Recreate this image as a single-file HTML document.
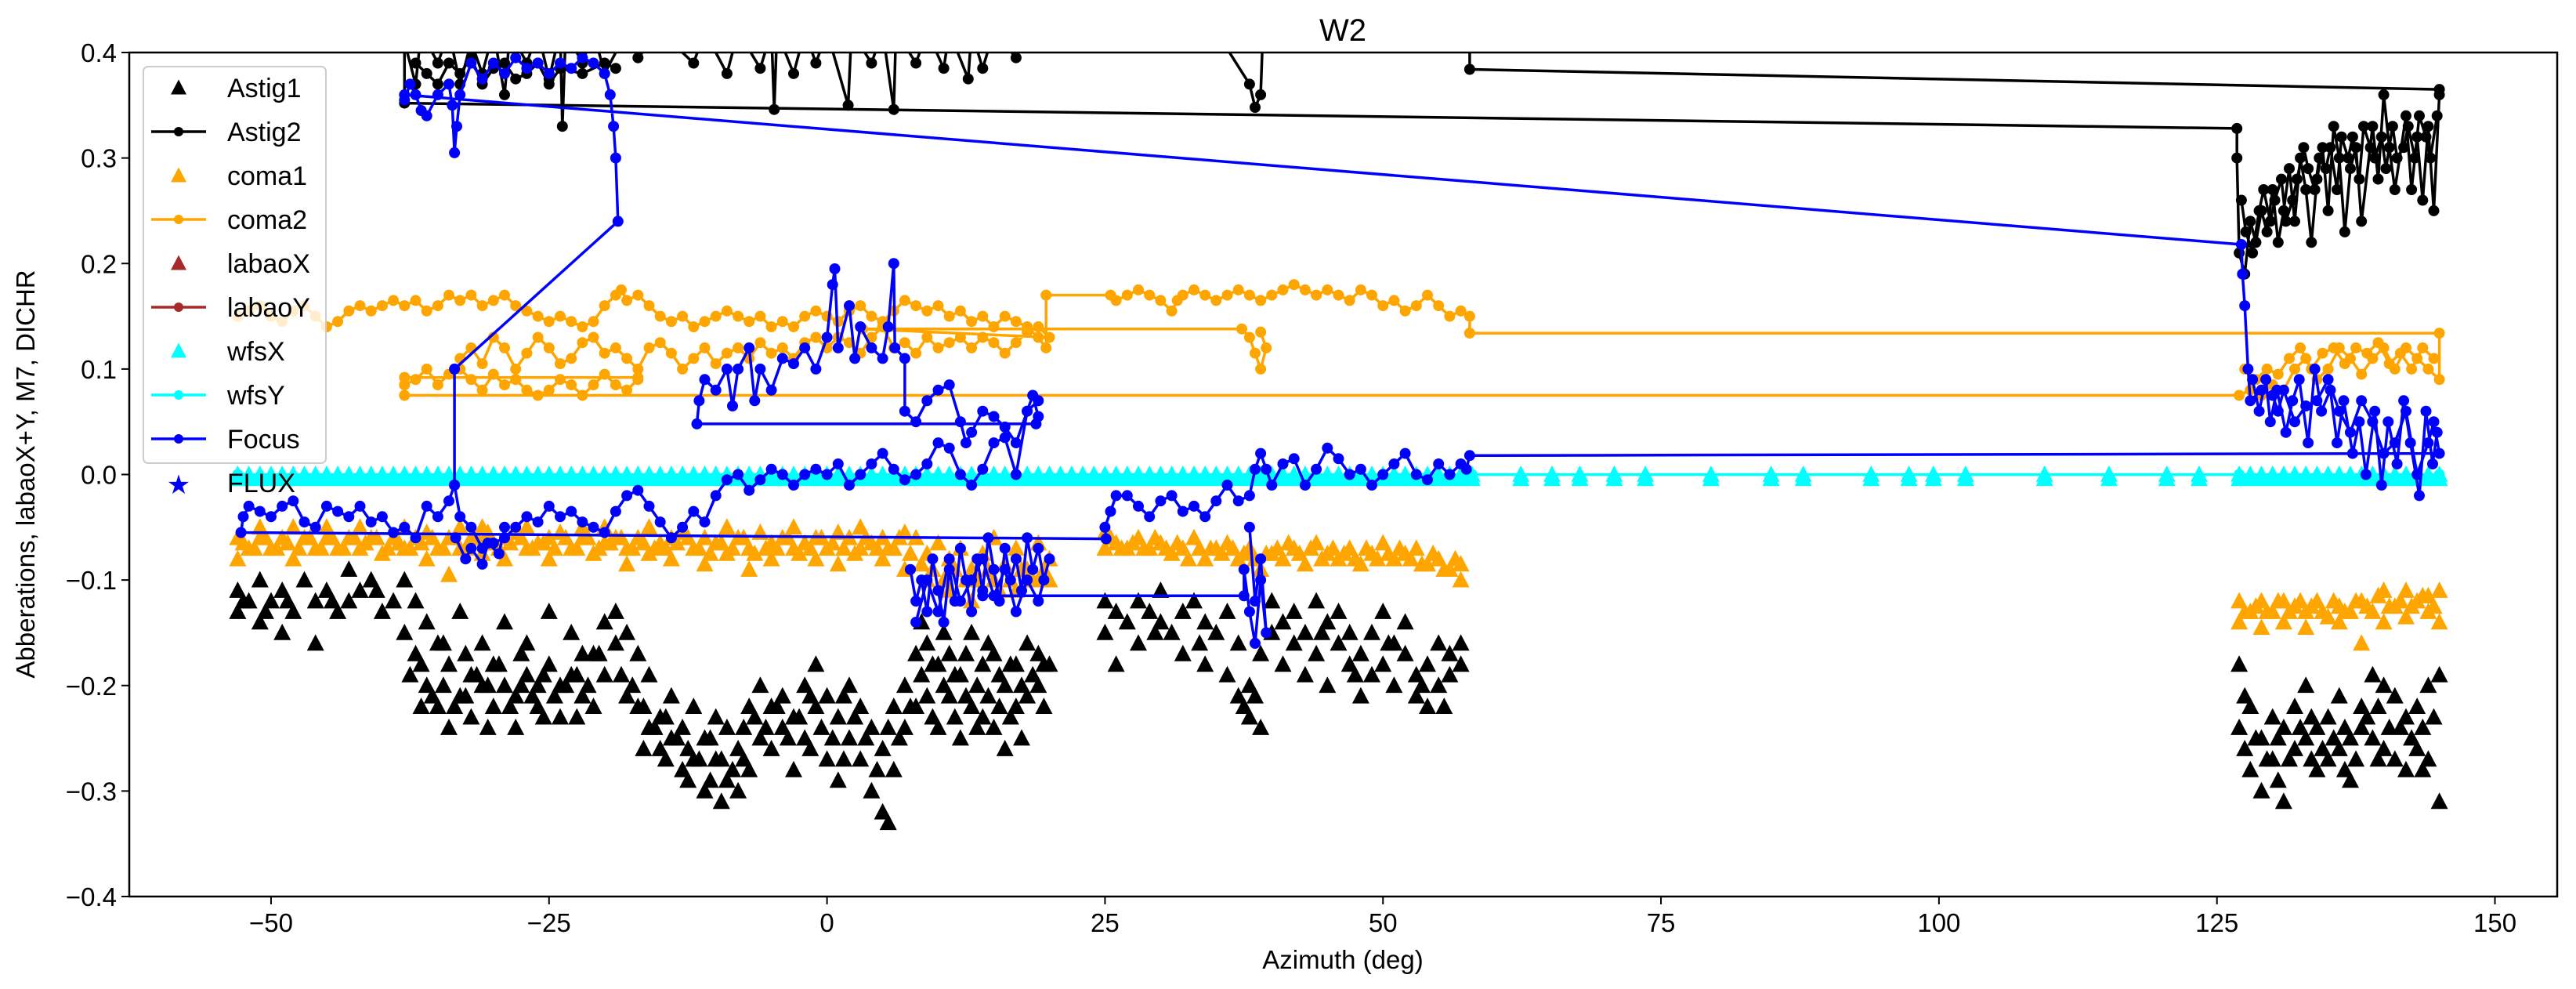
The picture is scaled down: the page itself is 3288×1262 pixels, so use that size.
<!DOCTYPE html>
<html><head><meta charset="utf-8"><title>W2</title>
<style>
html,body{margin:0;padding:0;background:#fff;}
svg{display:block;font-family:"Liberation Sans","DejaVu Sans",sans-serif;}
</style></head>
<body>
<svg id="chart" width="3288" height="1262" viewBox="0 0 3288 1262" xmlns="http://www.w3.org/2000/svg">
<defs><clipPath id="plotclip"><rect x="165" y="67" width="3099" height="1077"/></clipPath></defs>
<rect x="0" y="0" width="3288" height="1262" fill="#fff"/>
<text x="1714" y="52" font-size="40" text-anchor="middle">W2</text>
<g id="series" clip-path="url(#plotclip)"></g>
<g id="axes"></g>
<text x="1714" y="1236" font-size="33" text-anchor="middle">Azimuth (deg)</text>
<text transform="translate(44,605) rotate(-90)" font-size="33" text-anchor="middle">Abberations, labaoX+Y, M7, DICHR</text>
<g id="legend"></g>
</svg>
<script>
const xTicks=[-50,-25,0,25,50,75,100,125,150];
const yTicks=[-0.4,-0.3,-0.2,-0.1,0.0,0.1,0.2,0.3,0.4];
const yTickLabels=["\u22120.4","\u22120.3","\u22120.2","\u22120.1","0.0","0.1","0.2","0.3","0.4"];
const legendLabels=["Astig1","Astig2","coma1","coma2","labaoX","labaoY","wfsX","wfsY","Focus","FLUX"];

const astig1Points=[[-53,-0.11],[-53,-0.13],[-52,-0.12],[-51,-0.10],[-51,-0.14],[-50,-0.12],[-49,-0.11],[-49,-0.15],[-48,-0.13],[-47,-0.10],[-46,-0.12],[-46,-0.16],[-45,-0.11],[-44,-0.13],[-43,-0.12],[-43,-0.09],[-42,-0.11],[-41,-0.10],[-40,-0.13],[-39,-0.12],[-38,-0.15],[-38,-0.10],[-37,-0.17],[-37,-0.12],[-36,-0.20],[-36,-0.14],[-35,-0.22],[-35,-0.16],[-34,-0.18],[-34,-0.24],[-33,-0.21],[-33,-0.13],[-32,-0.19],[-32,-0.23],[-31,-0.20],[-31,-0.16],[-30,-0.22],[-30,-0.18],[-29,-0.20],[-29,-0.14],[-28,-0.21],[-28,-0.24],[-27,-0.19],[-27,-0.16],[-26,-0.22],[-26,-0.20],[-25,-0.18],[-25,-0.13],[-24,-0.20],[-24,-0.23],[-23,-0.19],[-23,-0.15],[-22,-0.21],[-22,-0.17],[-21,-0.17],[-21,-0.22],[-20,-0.14],[-20,-0.19],[-19,-0.13],[-19,-0.16],[-18,-0.15],[-18,-0.21],[-17,-0.22],[-17,-0.17],[-16,-0.24],[-16,-0.19],[-15,-0.23],[-15,-0.26],[-14,-0.21],[-14,-0.25],[-13,-0.24],[-13,-0.28],[-12,-0.22],[-12,-0.27],[-11,-0.25],[-11,-0.30],[-10,-0.27],[-10,-0.23],[-9,-0.29],[-9,-0.24],[-8,-0.26],[-8,-0.30],[-7,-0.28],[-7,-0.22],[-6,-0.25],[-6,-0.20],[-5,-0.22],[-5,-0.26],[-4,-0.21],[-4,-0.24],[-3,-0.23],[-3,-0.28],[-2,-0.20],[-2,-0.25],[-1,-0.22],[-1,-0.18],[0,-0.21],[0,-0.27],[1,-0.23],[1,-0.29],[2,-0.25],[2,-0.20],[3,-0.27],[3,-0.22],[4,-0.24],[4,-0.30],[5,-0.26],[5,-0.32],[6,-0.22],[6,-0.28],[7,-0.20],[7,-0.24],[8,-0.17],[8,-0.22],[9,-0.16],[9,-0.21],[10,-0.18],[10,-0.24],[11,-0.17],[11,-0.21],[12,-0.19],[12,-0.25],[13,-0.15],[13,-0.22],[14,-0.18],[14,-0.23],[15,-0.17],[15,-0.24],[16,-0.20],[16,-0.26],[17,-0.18],[17,-0.22],[18,-0.16],[18,-0.21],[19,-0.17],[19,-0.20],[20,-0.18],[25,-0.12],[25,-0.15],[26,-0.13],[26,-0.18],[27,-0.14],[28,-0.12],[28,-0.16],[29,-0.13],[30,-0.14],[30,-0.11],[31,-0.15],[32,-0.13],[32,-0.17],[33,-0.12],[34,-0.14],[34,-0.18],[35,-0.15],[36,-0.13],[36,-0.19],[37,-0.16],[37,-0.21],[38,-0.20],[38,-0.23],[39,-0.17],[39,-0.24],[40,-0.15],[40,-0.12],[41,-0.14],[41,-0.18],[42,-0.13],[42,-0.16],[43,-0.15],[43,-0.19],[44,-0.12],[44,-0.17],[45,-0.14],[45,-0.20],[46,-0.16],[46,-0.13],[47,-0.18],[47,-0.15],[48,-0.17],[48,-0.21],[49,-0.15],[49,-0.19],[50,-0.13],[50,-0.18],[51,-0.16],[51,-0.20],[52,-0.17],[52,-0.14],[53,-0.19],[53,-0.21],[54,-0.18],[54,-0.22],[55,-0.16],[55,-0.20],[56,-0.17],[56,-0.19],[57,-0.16],[57,-0.18],[127,-0.18],[127,-0.24],[128,-0.22],[128,-0.28],[129,-0.25],[129,-0.30],[130,-0.23],[130,-0.27],[131,-0.24],[131,-0.31],[132,-0.22],[132,-0.26],[133,-0.20],[133,-0.25],[134,-0.24],[134,-0.28],[135,-0.23],[135,-0.27],[136,-0.21],[136,-0.26],[137,-0.25],[137,-0.29],[138,-0.22],[138,-0.24],[139,-0.19],[139,-0.25],[140,-0.20],[140,-0.26],[141,-0.21],[141,-0.27],[142,-0.23],[142,-0.28],[143,-0.22],[143,-0.26],[144,-0.20],[144,-0.27],[145,-0.19],[145,-0.31]];
const astig1Extra=[[-52.5,-0.12],[-50.5,-0.13],[-48.5,-0.12],[-44.5,-0.12],[-40.5,-0.11],[-37.5,-0.19],[-36.5,-0.18],[-36.5,-0.22],[-35.5,-0.21],[-34.5,-0.20],[-34.5,-0.16],[-33.5,-0.22],[-32.5,-0.21],[-32.5,-0.17],[-31.5,-0.19],[-30.5,-0.20],[-30.5,-0.24],[-29.5,-0.18],[-28.5,-0.22],[-27.5,-0.20],[-27.5,-0.17],[-26.5,-0.21],[-25.5,-0.19],[-25.5,-0.23],[-24.5,-0.21],[-23.5,-0.20],[-22.5,-0.19],[-22.5,-0.23],[-21.5,-0.20],[-20.5,-0.17],[-18.5,-0.19],[-17.5,-0.20],[-16.5,-0.22],[-16.5,-0.26],[-15.5,-0.24],[-14.5,-0.23],[-14.5,-0.27],[-13.5,-0.25],[-12.5,-0.26],[-12.5,-0.29],[-11.5,-0.27],[-10.5,-0.25],[-10.5,-0.29],[-9.5,-0.27],[-9.5,-0.31],[-8.5,-0.28],[-7.5,-0.24],[-7.5,-0.27],[-6.5,-0.23],[-5.5,-0.24],[-4.5,-0.22],[-3.5,-0.25],[-2.5,-0.23],[-1.5,-0.21],[-1.5,-0.26],[-0.5,-0.24],[0.5,-0.25],[1.5,-0.21],[1.5,-0.27],[2.5,-0.23],[3.5,-0.25],[4.5,-0.28],[5.5,-0.24],[5.5,-0.33],[6.5,-0.25],[7.5,-0.22],[8.5,-0.19],[8.5,-0.14],[9.5,-0.18],[9.5,-0.23],[10.5,-0.20],[10.5,-0.15],[11.5,-0.19],[11.5,-0.23],[12.5,-0.17],[12.5,-0.21],[13.5,-0.20],[13.5,-0.24],[14.5,-0.16],[14.5,-0.21],[15.5,-0.19],[15.5,-0.22],[16.5,-0.18],[16.5,-0.23],[17.5,-0.20],[17.5,-0.25],[18.5,-0.19],[19.5,-0.18],[19.5,-0.22],[29.5,-0.15],[33.5,-0.16],[37.5,-0.22],[38.5,-0.21],[44.5,-0.15],[47.5,-0.19],[50.5,-0.16],[53.5,-0.20],[55.5,-0.22],[127.5,-0.21],[127.5,-0.26],[128.5,-0.25],[129.5,-0.27],[130.5,-0.25],[130.5,-0.29],[131.5,-0.27],[132.5,-0.24],[133.5,-0.23],[133.5,-0.27],[134.5,-0.26],[135.5,-0.25],[136.5,-0.24],[136.5,-0.28],[137.5,-0.27],[138.5,-0.23],[139.5,-0.22],[139.5,-0.27],[140.5,-0.24],[141.5,-0.24],[142.5,-0.25],[143.5,-0.24],[143.5,-0.28],[144.5,-0.23]];

const coma1Points=[[-53,-0.06],[-53,-0.08],[-52,-0.07],[-51,-0.06],[-51,-0.05],[-50,-0.07],[-49,-0.06],[-48,-0.05],[-48,-0.08],[-47,-0.06],[-46,-0.07],[-45,-0.06],[-45,-0.05],[-44,-0.07],[-43,-0.06],[-42,-0.05],[-42,-0.07],[-41,-0.06],[-40,-0.075],[-39,-0.06],[-38,-0.05],[-38,-0.07],[-37,-0.06],[-36,-0.08],[-36,-0.055],[-35,-0.07],[-34,-0.06],[-34,-0.095],[-33,-0.07],[-33,-0.05],[-32,-0.06],[-31,-0.075],[-31,-0.05],[-30,-0.065],[-29,-0.06],[-29,-0.08],[-28,-0.055],[-27,-0.07],[-27,-0.05],[-26,-0.065],[-25,-0.06],[-25,-0.08],[-24,-0.055],[-23,-0.07],[-22,-0.06],[-22,-0.05],[-21,-0.075],[-20,-0.065],[-20,-0.05],[-19,-0.06],[-18,-0.07],[-18,-0.085],[-17,-0.06],[-16,-0.05],[-16,-0.075],[-15,-0.065],[-14,-0.06],[-14,-0.08],[-13,-0.055],[-12,-0.07],[-11,-0.06],[-11,-0.085],[-10,-0.065],[-9,-0.05],[-9,-0.075],[-8,-0.06],[-7,-0.07],[-7,-0.09],[-6,-0.055],[-5,-0.065],[-5,-0.08],[-4,-0.06],[-3,-0.07],[-3,-0.05],[-2,-0.065],[-1,-0.06],[-1,-0.08],[0,-0.07],[1,-0.055],[1,-0.085],[2,-0.06],[3,-0.07],[3,-0.05],[4,-0.065],[5,-0.06],[5,-0.08],[6,-0.07],[7,-0.055],[7,-0.09],[8,-0.06],[9,-0.075],[9,-0.1],[10,-0.065],[11,-0.08],[11,-0.11],[12,-0.07],[13,-0.09],[13,-0.12],[14,-0.075],[15,-0.1],[15,-0.06],[16,-0.085],[17,-0.11],[17,-0.07],[18,-0.09],[19,-0.1],[19,-0.065],[20,-0.08],[20,-0.1],[25,-0.055],[25,-0.07],[26,-0.065],[27,-0.07],[28,-0.06],[29,-0.07],[30,-0.065],[31,-0.075],[32,-0.07],[33,-0.06],[34,-0.08],[35,-0.07],[36,-0.065],[37,-0.08],[38,-0.07],[39,-0.09],[40,-0.075],[41,-0.08],[42,-0.07],[43,-0.085],[44,-0.065],[45,-0.075],[46,-0.08],[47,-0.07],[48,-0.085],[49,-0.075],[50,-0.065],[51,-0.08],[52,-0.075],[53,-0.07],[54,-0.085],[55,-0.08],[56,-0.09],[57,-0.085],[57,-0.1],[127,-0.12],[127,-0.14],[128,-0.13],[129,-0.12],[129,-0.145],[130,-0.13],[131,-0.12],[131,-0.14],[132,-0.125],[133,-0.13],[133,-0.145],[134,-0.12],[135,-0.135],[136,-0.125],[136,-0.14],[137,-0.13],[138,-0.12],[138,-0.16],[139,-0.13],[140,-0.11],[140,-0.14],[141,-0.125],[142,-0.11],[142,-0.135],[143,-0.12],[144,-0.13],[144,-0.115],[145,-0.11],[145,-0.14]];
const coma1Extra=[[-52.5,-0.065],[-51.5,-0.07],[-50.5,-0.06],[-49.5,-0.07],[-48.5,-0.065],[-47.5,-0.07],[-46.5,-0.06],[-45.5,-0.07],[-44.5,-0.06],[-43.5,-0.07],[-42.5,-0.06],[-41.5,-0.065],[-40.5,-0.06],[-39.5,-0.07],[-38.5,-0.065],[-37.5,-0.07],[-36.5,-0.065],[-35.5,-0.06],[-34.5,-0.07],[-33.5,-0.06],[-32.5,-0.07],[-31.5,-0.06],[-30.5,-0.055],[-29.5,-0.07],[-28.5,-0.065],[-27.5,-0.06],[-26.5,-0.07],[-25.5,-0.065],[-24.5,-0.07],[-23.5,-0.06],[-22.5,-0.07],[-21.5,-0.06],[-20.5,-0.07],[-19.5,-0.065],[-18.5,-0.06],[-17.5,-0.07],[-16.5,-0.065],[-15.5,-0.07],[-14.5,-0.07],[-13.5,-0.065],[-12.5,-0.06],[-11.5,-0.07],[-10.5,-0.075],[-9.5,-0.065],[-8.5,-0.07],[-7.5,-0.06],[-6.5,-0.075],[-5.5,-0.07],[-4.5,-0.07],[-3.5,-0.06],[-2.5,-0.075],[-1.5,-0.07],[-0.5,-0.06],[0.5,-0.065],[1.5,-0.07],[2.5,-0.075],[3.5,-0.06],[4.5,-0.07],[5.5,-0.07],[6.5,-0.06],[7.5,-0.075],[8.5,-0.085],[9.5,-0.09],[10.5,-0.1],[11.5,-0.09],[12.5,-0.1],[13.5,-0.1],[14.5,-0.09],[15.5,-0.11],[16.5,-0.1],[17.5,-0.09],[18.5,-0.1],[19.5,-0.09],[25.5,-0.06],[26.5,-0.07],[27.5,-0.065],[28.5,-0.07],[29.5,-0.06],[30.5,-0.07],[31.5,-0.065],[32.5,-0.08],[33.5,-0.07],[34.5,-0.07],[35.5,-0.075],[36.5,-0.07],[37.5,-0.075],[38.5,-0.08],[39.5,-0.075],[40.5,-0.07],[41.5,-0.065],[42.5,-0.075],[43.5,-0.07],[44.5,-0.08],[45.5,-0.07],[46.5,-0.075],[47.5,-0.08],[48.5,-0.07],[49.5,-0.08],[50.5,-0.075],[51.5,-0.07],[52.5,-0.08],[53.5,-0.085],[54.5,-0.075],[55.5,-0.09],[56.5,-0.08],[127.5,-0.13],[128.5,-0.125],[129.5,-0.13],[130.5,-0.12],[131.5,-0.13],[132.5,-0.12],[133.5,-0.125],[134.5,-0.13],[135.5,-0.12],[136.5,-0.13],[137.5,-0.12],[138.5,-0.125],[139.5,-0.115],[140.5,-0.125],[141.5,-0.12],[142.5,-0.125],[143.5,-0.115],[144.5,-0.125]];

const wfsXAz=[-53,-52,-51,-50,-49,-48,-47,-46,-45,-44,-43,-42,-41,-40,-39,-38,-37,-36,-35,-34,-33,-32,-31,-30,-29,-28,-27,-26,-25,-24,-23,-22,-21,-20,-19,-18,-17,-16,-15,-14,-13,-12,-11,-10,-9,-8,-7,-6,-5,-4,-3,-2,-1,0,1,2,3,4,5,6,7,8,9,10,11,12,13,14,15,16,17,18,19,20,21,22,23,24,25,26,27,28,29,30,31,32,33,34,35,36,37,38,39,40,41,42,43,44,45,46,47,48,49,50,51,52,53,54,55,56,57,58,62.4,65.2,67.7,70.8,73.6,79.5,84.9,87.8,93.9,97.3,99.5,102.4,109.5,115.3,120.5,123.4,127,128,129,130,131,132,133,134,135,136,137,138,139,140,141,142,143,144,145];
const wfsXVal=[-0.004];
const wfsYAz=[-53,58,127,145];
const wfsYVal=[0,0,0,0];

const astig2Points=[[-38,0.352],[-38,0.41],[-37,0.37],[-36.5,0.42],[-35,0.39],[-34,0.42],[-33,0.37],[-32,0.41],[-31,0.38],[-30,0.42],[-29,0.36],[-28.5,0.42],[-27,0.39],[-26,0.42],[-25,0.375],[-24,0.42],[-23.8,0.33],[-23.5,0.42],[-22,0.39],[-21,0.42],[-20,0.38],[-18,0.42],[-17,0.395],[-15,0.42],[-12,0.39],[-11,0.42],[-9,0.38],[-8,0.42],[-6,0.385],[-5,0.42],[-4.75,0.346],[-4.5,0.42],[-3,0.38],[-2,0.42],[-1,0.39],[0,0.42],[1.9,0.35],[2.2,0.42],[4,0.39],[5,0.42],[6.0,0.346],[6.2,0.42],[8,0.39],[9,0.42],[10.5,0.385],[11,0.42],[12.7,0.375],[13,0.42],[14,0.385],[15,0.42],[17,0.395],[18,0.42],[20,0.41],[25,0.42],[30,0.41],[35,0.42],[38,0.37],[38.5,0.348],[39,0.36],[39.2,0.42],[45,0.41],[50,0.42],[57.8,0.42],[57.8,0.384],[145,0.365],[145,0.36],[144.5,0.25],[144,0.33],[143.5,0.26],[143,0.32],[142.5,0.27],[142,0.34],[141,0.27],[140.5,0.31],[140,0.36],[139.5,0.28],[139,0.33],[138,0.24],[137.5,0.31],[137,0.29],[136.5,0.23],[136,0.30],[135.5,0.33],[135,0.25],[134.5,0.31],[134,0.28],[133.5,0.22],[133,0.27],[132.5,0.30],[132,0.24],[131.5,0.29],[131,0.25],[130.5,0.22],[130,0.27],[129.5,0.23],[129,0.25],[128.5,0.22],[128,0.24],[127.5,0.19],[127,0.21],[126.8,0.30],[126.8,0.328],[-38,0.352]];
const astig2Extra=[[127.2,0.26],[127.6,0.23],[128.2,0.21],[128.8,0.25],[129.2,0.27],[129.8,0.24],[130.2,0.26],[130.8,0.28],[131.2,0.24],[131.8,0.26],[132.2,0.28],[132.8,0.31],[133.2,0.29],[133.8,0.27],[134.2,0.30],[134.8,0.29],[135.2,0.31],[135.8,0.27],[136.2,0.32],[136.8,0.30],[137.2,0.32],[137.8,0.28],[138.2,0.33],[138.8,0.31],[139.2,0.30],[139.8,0.32],[140.2,0.29],[140.8,0.33],[141.2,0.30],[141.8,0.31],[142.2,0.33],[142.8,0.30],[143.2,0.34],[143.8,0.32],[144.2,0.30],[144.8,0.34]];
const astig2Top=[[-37,0.39],[-36,0.38],[-35,0.37],[-34,0.39],[-33,0.38],[-32,0.395],[-31,0.37],[-30,0.385],[-29,0.39],[-28,0.375],[-27,0.38],[-26,0.39],[-25,0.37],[-24,0.385],[-22,0.38],[-20,0.39],[-19,0.385]];

const coma2Seg1=[[-53,0.15],[-52,0.155],[-51,0.16],[-50,0.15],[-49,0.145],[-48,0.155],[-47,0.16],[-46,0.15],[-45,0.14],[-44,0.145],[-43,0.155],[-42,0.16],[-41,0.155],[-40,0.16],[-39,0.165],[-38,0.16],[-37,0.165],[-36,0.155],[-35,0.16],[-34,0.17],[-33,0.165],[-32,0.17],[-31,0.16],[-30,0.165],[-29,0.17],[-28,0.16],[-27,0.155],[-26,0.15],[-25,0.145],[-24,0.15],[-23,0.145],[-22,0.14],[-21,0.145],[-20,0.16],[-19,0.17],[-18.5,0.175],[-18,0.165],[-17,0.17],[-16,0.16],[-15,0.15],[-14,0.145],[-13,0.15],[-12,0.14],[-11,0.145],[-10,0.15],[-9,0.155],[-8,0.15],[-7,0.145],[-6,0.15],[-5,0.14],[-4,0.145],[-3,0.14],[-2,0.15],[-1,0.155],[0,0.15],[1,0.145],[2,0.155],[3,0.16],[4,0.15],[5,0.145],[6,0.155],[7,0.165],[8,0.16],[9,0.155],[10,0.16],[11,0.15],[12,0.155],[13,0.145],[14,0.15],[15,0.14],[16,0.15],[17,0.145],[18,0.14],[19,0.13],[19.7,0.12],[19.7,0.17],[25.5,0.17],[26,0.165],[27,0.17],[28,0.175],[29,0.17],[30,0.165],[31,0.155],[31.5,0.165],[32,0.17],[33,0.175],[34,0.17],[35,0.165],[36,0.17],[37,0.175],[38,0.17],[39,0.165],[40,0.17],[41,0.175],[42,0.18],[43,0.175],[44,0.17],[45,0.175],[46,0.17],[47,0.165],[48,0.175],[49,0.17],[50,0.16],[51,0.165],[52,0.155],[53,0.16],[54,0.17],[55,0.16],[56,0.15],[57,0.155],[57.8,0.15],[57.8,0.134],[145,0.134],[145,0.09],[144,0.1],[143,0.11],[142,0.12],[141,0.1],[140,0.12],[139,0.11],[138,0.095],[137,0.11],[136,0.12],[135,0.1],[134,0.09],[133,0.11],[132,0.1],[131,0.08],[130,0.085],[129,0.075],[128,0.08],[127,0.075],[-38,0.075],[-38,0.085],[-37,0.09],[-36,0.1],[-35,0.085],[-34,0.095],[-33,0.1],[-32,0.09],[-31,0.08],[-30,0.095],[-29,0.085],[-28,0.09],[-27,0.08],[-26,0.075],[-25,0.08],[-24,0.09],[-23,0.085],[-22,0.075],[-21,0.085],[-20,0.095],[-19,0.085],[-18,0.08],[-17,0.09],[-17,0.092],[-38,0.092]];
const coma2Seg2=[[-33,0.11],[-32,0.12],[-31,0.105],[-30,0.13],[-29,0.12],[-28,0.1],[-27,0.115],[-26,0.13],[-25,0.12],[-24,0.105],[-23,0.11],[-22,0.125],[-21,0.13],[-20,0.115],[-19,0.12],[-18,0.11],[-17,0.1],[-16,0.12],[-15,0.125],[-14,0.115],[-13,0.1],[-12,0.11],[-11,0.12],[-10,0.105],[-9,0.115],[-8,0.12],[-7,0.11],[-6,0.125],[-5,0.115],[-4,0.12],[-3,0.11],[-2,0.125],[-1,0.13],[0,0.12],[1,0.13],[2,0.125],[3,0.115],[4,0.13],[5,0.14],[6,0.12],[7,0.125],[8,0.115],[9,0.13],[10,0.12],[11,0.125],[12,0.13],[13,0.12],[14,0.13],[15,0.125],[16,0.115],[17,0.125],[18,0.135],[19,0.14],[20,0.13],[3.2,0.138],[37.3,0.138],[38,0.13],[38.5,0.115],[39,0.1],[39.5,0.12],[39,0.135]];
const coma2Seg3=[[127.5,0.1],[128.5,0.09],[129.5,0.1],[130.5,0.095],[131.5,0.11],[132.5,0.12],[133.5,0.1],[134.5,0.115],[135.5,0.12],[136.5,0.105],[137.5,0.12],[138.5,0.115],[139.5,0.125],[140.5,0.105],[141.5,0.115],[142.5,0.1],[143.5,0.12],[144.5,0.11]];

const focusSeg1=[[-52.7,-0.055],[-52.5,-0.04],[-52,-0.03],[-51,-0.035],[-50,-0.04],[-49,-0.03],[-48,-0.025],[-47,-0.045],[-46,-0.05],[-45,-0.03],[-44,-0.035],[-43,-0.04],[-42,-0.03],[-41,-0.045],[-40,-0.04],[-39,-0.055],[-38,-0.05],[-37,-0.06],[-36,-0.03],[-35,-0.04],[-34,-0.025],[-33.5,-0.01],[-33.5,0.1],[-18.8,0.24],[-19,0.30],[-19.2,0.33],[-19.5,0.36],[-20,0.38],[-21,0.39],[-22,0.395],[-23,0.385],[-24,0.39],[-25,0.38],[-26,0.39],[-27,0.385],[-28,0.395],[-29,0.38],[-30,0.39],[-31,0.375],[-32,0.39],[-33,0.36],[-33.3,0.33],[-33.5,0.305],[-33.7,0.35],[-34,0.37],[-35,0.36],[-36,0.34],[-36.5,0.345],[-37,0.36],[-37.5,0.37],[-38,0.355],[-38,0.36],[127.2,0.218],[127.3,0.19],[127.5,0.16],[127.8,0.10],[128,0.07],[129,0.08],[130,0.075],[130.5,0.06],[131,0.08],[132,0.05],[133,0.065],[134,0.07],[135,0.09],[136,0.06],[137,0.04],[138,0.07],[139,0.05],[140,0.02],[141,0.03],[142,0.06],[143,0.0],[144,0.03],[144.5,0.05],[145,0.02],[57.8,0.018],[57.5,0.005],[57,0.01],[56,0.0],[55,0.01],[54,-0.005],[53,0.0],[52,0.02],[51,0.01],[50,0.0],[49,-0.01],[48,0.005],[47,0.0],[46,0.015],[45,0.025],[44,0.005],[43,-0.01],[42,0.015],[41,0.01],[40,-0.01],[39.5,0.005],[39,0.02],[38.5,0.005],[38,-0.02],[37,-0.025],[36,-0.01],[35,-0.025],[34,-0.04],[33,-0.03],[32,-0.035],[31,-0.02],[30,-0.025],[29,-0.04],[28,-0.03],[27,-0.02],[26,-0.02],[25.5,-0.035],[25,-0.05],[25.1,-0.061],[-52.7,-0.055]];
const focusSeg2=[[-33.5,-0.01],[-33,-0.04],[-32,-0.05],[-31,-0.07],[-30,-0.065],[-29,-0.06],[-28,-0.05],[-27,-0.04],[-26,-0.045],[-25,-0.03],[-24,-0.04],[-23,-0.035],[-22,-0.045],[-21,-0.05],[-20,-0.055],[-19,-0.035],[-18,-0.02],[-17,-0.015],[-16,-0.03],[-15,-0.045],[-14,-0.06],[-13,-0.05],[-12,-0.035],[-11,-0.045],[-10,-0.02],[-9,-0.005],[-8,0.0],[-7,-0.015],[-6,-0.005],[-5,0.005],[-4,0.0],[-3,-0.01],[-2,0.0],[-1,0.005],[0,0.0],[1,0.01],[2,-0.01],[3,0.0],[4,0.01],[5,0.02],[6,0.005],[7,-0.005],[8,0.0],[9,0.01],[10,0.03],[11,0.025],[12,0.0],[13,-0.01],[14,0.005],[15,0.03],[16,0.035],[17,0.0],[18,0.06],[19,0.07]];
const focusSeg3=[[-33.4,-0.06],[-32.5,-0.08],[-32,-0.07],[-31,-0.085],[-30.5,-0.065],[-29.5,-0.075],[-29,-0.05]];
const focusSeg4=[[18.8,0.048],[-11.7,0.048],[-11.5,0.07],[-11,0.09],[-10,0.08],[-9,0.1],[-8.5,0.065],[-8,0.1],[-7,0.12],[-6.5,0.07],[-6,0.1],[-5,0.08],[-4,0.11],[-3,0.105],[-2,0.12],[-1,0.1],[0,0.13],[0.5,0.18],[0.7,0.195],[1,0.12],[2,0.16],[2.5,0.11],[3,0.14],[4,0.12],[5,0.11],[5.5,0.14],[6,0.2],[6.1,0.12],[7,0.11],[7,0.06],[8,0.05],[9,0.07],[10,0.08],[11,0.085],[12,0.05],[12.5,0.03],[13,0.04],[14,0.06],[15,0.055],[16,0.045],[17,0.03],[18,0.06],[18.5,0.075],[19,0.055]];
const focusSeg5=[[7.5,-0.09],[8,-0.12],[8.5,-0.1],[9,-0.13],[9.5,-0.08],[10,-0.11],[10.5,-0.14],[11,-0.09],[11.5,-0.12],[12,-0.07],[12.5,-0.1],[13,-0.13],[13.5,-0.08],[14,-0.11],[14.5,-0.06],[15,-0.09],[15.5,-0.12],[16,-0.07],[16.5,-0.1],[17,-0.08],[17.5,-0.11],[18,-0.06],[18.5,-0.09],[19,-0.07],[19.5,-0.1],[20,-0.08],[19,-0.12],[18,-0.1],[17,-0.13],[16,-0.09],[15,-0.115],[14,-0.08],[13,-0.1],[12,-0.12],[11,-0.08],[10,-0.13],[9,-0.1],[8,-0.14]];
const focusSeg6=[[14,-0.115],[37.5,-0.115],[37.5,-0.09],[38,-0.13],[38.5,-0.16],[39,-0.1],[39.5,-0.15],[39,-0.08],[38.5,-0.12],[38,-0.05]];
const focusSeg7=[[128.2,0.09],[128.8,0.06],[129.4,0.09],[129.8,0.05],[130.4,0.08],[131.2,0.04],[131.8,0.07],[132.4,0.09],[133.2,0.03],[133.8,0.1],[134.4,0.06],[135.2,0.08],[135.8,0.03],[136.4,0.07],[137.2,0.02],[137.8,0.05],[138.4,0.0],[139.2,0.06],[139.8,-0.01],[140.4,0.05],[141.2,0.01],[141.8,0.07],[142.4,0.03],[143.2,-0.02],[143.8,0.06],[144.4,0.01],[144.8,0.04]];

const NS="http://www.w3.org/2000/svg";
const X0=165,X1=3264,Y0=67,Y1=1144,XMIN=-62.75,XMAX=155.6,YMIN=-0.4,YMAX=0.4;
function xs(a){return X0+(a-XMIN)/(XMAX-XMIN)*(X1-X0);}
function ys(v){return Y1-(v-YMIN)/(YMAX-YMIN)*(Y1-Y0);}
function mk(tag,attrs,parent){const e=document.createElementNS(NS,tag);for(const k in attrs)e.setAttribute(k,attrs[k]);parent.appendChild(e);return e;}
const G=document.getElementById('series');
function triPath(cx,cy,s){return `M${(cx-s).toFixed(1)},${(cy+s*0.85).toFixed(1)}L${(cx+s).toFixed(1)},${(cy+s*0.85).toFixed(1)}L${cx.toFixed(1)},${(cy-s*1.05).toFixed(1)}Z`;}
function triangles(pts,color,name){
  let d='';for(const p of pts)d+=triPath(xs(p[0]),ys(p[1]),11);
  const el=mk('path',{d:d,fill:color},G);
  
  
}
function lineDots(pts,color,name){
  let d='';pts.forEach((p,i)=>{d+=(i?'L':'M')+xs(p[0]).toFixed(1)+','+ys(p[1]).toFixed(1);});
  const l=mk('path',{d:d,fill:'none',stroke:color,'stroke-width':3.5,'stroke-linejoin':'round'},G);
  
  
  let dd='';for(const p of pts){const x=xs(p[0]),y=ys(p[1]);dd+=`M${(x-7).toFixed(1)},${y.toFixed(1)}a7,7 0 1,0 14,0a7,7 0 1,0 -14,0`;}
  const m=mk('path',{d:dd,fill:color},G);
  
  
}
triangles(astig1Points,'#000','astig1-series');
triangles(astig1Extra,'#000','astig1-series-extra');
lineDots(astig2Points,'#000','astig2-series');
lineDots(astig2Extra,'#000','astig2-series-extra');
lineDots(astig2Top,'#000','astig2-series-top');
triangles(coma1Points,'#ffa500','coma1-series');
triangles(coma1Extra,'#ffa500','coma1-series-extra');
lineDots(coma2Seg1,'#ffa500','coma2-series-a');
lineDots(coma2Seg2,'#ffa500','coma2-series-b');
lineDots(coma2Seg3,'#ffa500','coma2-series-c');
triangles(wfsXAz.map(a=>[a,wfsXVal[0]]),'#00ffff','wfsx-series');
triangles(wfsXAz.map(a=>[a,wfsYVal[0]]),'#00ffff','wfsx-series-upper');
lineDots(wfsYAz.map((a,i)=>[a,wfsYVal[i]]),'#00ffff','wfsy-series');
[focusSeg1,focusSeg2,focusSeg3,focusSeg4,focusSeg5,focusSeg6,focusSeg7].forEach((s,i)=>lineDots(s,'#0000ff','focus-series-'+(i+1)));

const A=document.getElementById('axes');
const frame=mk('rect',{x:X0,y:Y0,width:X1-X0,height:Y1-Y0,fill:'none',stroke:'#000','stroke-width':2.5},A);


xTicks.forEach(t=>{
  const x=xs(t);
  const tk=mk('line',{x1:x,y1:Y1,x2:x,y2:Y1+10,stroke:'#000','stroke-width':2},A);
  
  
  const tx=mk('text',{x:x,y:Y1+45,'font-size':33,'text-anchor':'middle'},A);
  tx.textContent=t<0?'\u2212'+Math.abs(t):String(t);
  
  
});
yTicks.forEach((t,i)=>{
  const y=ys(t);
  const tk=mk('line',{x1:X0-10,y1:y,x2:X0,y2:y,stroke:'#000','stroke-width':2},A);
  
  
  const tx=mk('text',{x:X0-16,y:y+12,'font-size':33,'text-anchor':'end'},A);
  tx.textContent=yTickLabels[i];
  
  
});
const L=document.getElementById('legend');
mk('rect',{x:183,y:85,width:233,height:506,rx:6,fill:'#fff','fill-opacity':0.8,stroke:'#cccccc','stroke-width':2},L);
const legendColors=['#000','#000','#ffa500','#ffa500','#a52a2a','#a52a2a','#00ffff','#00ffff','#0000ff','#0000ff'];
const legendKinds=['tri','line','tri','line','tri','line','tri','line','line','star'];
legendLabels.forEach((lab,i)=>{
  const y=112+i*56;
  const g=mk('g',{},L);
  
  
  const c=legendColors[i];
  if(legendKinds[i]==='tri'){mk('path',{d:triPath(228,y,10),fill:c},g);}
  else if(legendKinds[i]==='line'){mk('line',{x1:193,y1:y,x2:263,y2:y,stroke:c,'stroke-width':3.5},g);mk('circle',{cx:228,cy:y,r:6,fill:c},g);}
  else {mk('text',{x:228,y:y+14,'font-size':34,fill:c,'text-anchor':'middle'},g).textContent='\u2605';}
  const t=mk('text',{x:290,y:y+12,'font-size':34},g);
  t.textContent=lab;
});
</script>
</body></html>
